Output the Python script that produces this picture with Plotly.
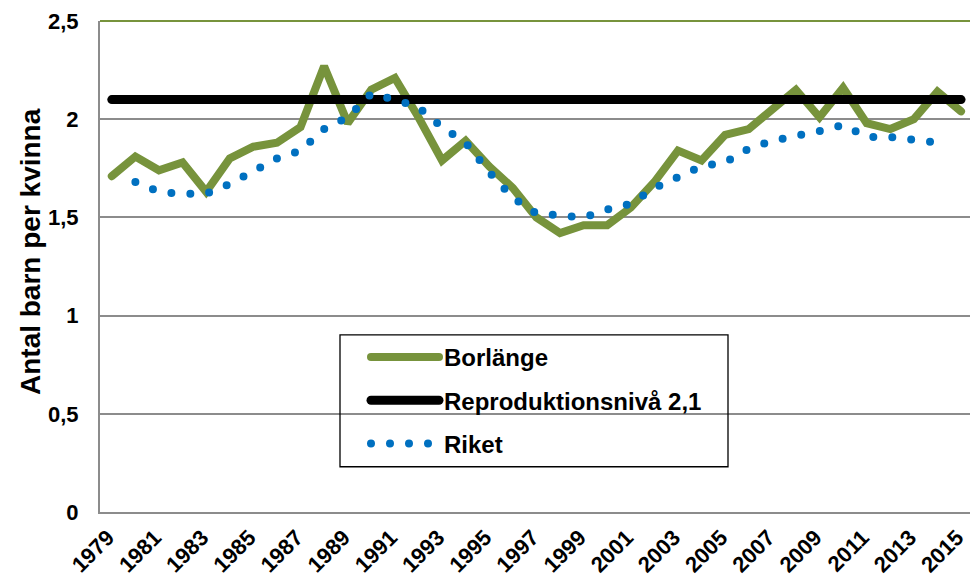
import plotly.graph_objects as go

years = list(range(1979, 2016))
borlange = [1.71, 1.81, 1.74, 1.78, 1.63, 1.80, 1.86, 1.88, 1.96, 2.27,
            1.98, 2.15, 2.21, 2.01, 1.79, 1.89, 1.76, 1.65, 1.50, 1.42,
            1.46, 1.46, 1.55, 1.68, 1.84, 1.79, 1.92, 1.95, 2.05, 2.15,
            2.01, 2.16, 1.98, 1.95, 2.00, 2.14, 2.04]
repro_years = list(range(1979, 2016))
repro = [2.1] * len(repro_years)
riket_years = list(range(1980, 2015))
riket = [1.68, 1.63, 1.62, 1.62, 1.67, 1.74, 1.80, 1.84, 1.95, 2.01,
         2.13, 2.10, 2.06, 1.96, 1.88, 1.73, 1.60, 1.52, 1.51, 1.50,
         1.54, 1.57, 1.65, 1.71, 1.76, 1.78, 1.85, 1.89, 1.91, 1.94,
         1.97, 1.91, 1.91, 1.90, 1.88]

xtick_vals = list(range(1979, 2016, 2))
xtick_text = [str(v) for v in xtick_vals]
ytick_vals = [0, 0.5, 1, 1.5, 2, 2.5]
ytick_text = ["0", "0,5", "1", "1,5", "2", "2,5"]

GREEN = "#77933C"
BLUE = "#0070C0"
GRID = "#8C8C8C"
FONT = "Liberation Sans"

fig = go.Figure()
fig.add_trace(go.Scatter(x=years, y=borlange, mode="lines", name="Borlänge",
                         legendgroup="a",
                         line=dict(color=GREEN, width=8)))
fig.add_trace(go.Scatter(x=repro_years, y=repro, mode="lines",
                         name="Reproduktionsnivå 2,1", legendgroup="b",
                         line=dict(color="black", width=9)))
fig.add_trace(go.Scatter(x=riket_years, y=riket, mode="lines", name="Riket",
                         legendgroup="c",
                         line=dict(color=BLUE, width=8, dash="0px,19px")))

fig.update_layout(
    width=970, height=577, autosize=False,
    margin=dict(l=100, r=0, t=21, b=65, autoexpand=False),
    paper_bgcolor="white", plot_bgcolor="white",
    font=dict(family=FONT, color="black", weight="bold"),
    showlegend=True,
    legend=dict(x=(366 - 100) / 870, y=(512.3 - 335) / 491.6,
                xanchor="left", yanchor="top",
                bgcolor="rgba(0,0,0,0)", borderwidth=0,
                font=dict(family=FONT, size=24, color="black", weight="bold"),
                itemwidth=68, tracegroupgap=9, traceorder="grouped"),
    xaxis=dict(range=[1978.5, 2015.38], tickmode="array",
               tickvals=xtick_vals, ticktext=xtick_text, tickangle=-45,
               tickfont=dict(family=FONT, size=22, weight="bold"),
               showgrid=False, zeroline=False, showline=True,
               linecolor=GRID, linewidth=2, ticks="", ticklabelstandoff=2,
               ticklabelshift=-4,
               ticklabeloverflow="allow", automargin=False),
    yaxis=dict(range=[0, 2.5], tickmode="array", tickvals=ytick_vals,
               ticktext=ytick_text,
               tickfont=dict(family=FONT, size=22, weight="bold"),
               showgrid=True, gridcolor=GRID, gridwidth=2, zeroline=False,
               showline=True, linecolor=GRID, linewidth=2, ticks="",
               ticklabelstandoff=15, automargin=False),
    shapes=[
        dict(type="line", xref="paper", yref="paper", x0=0, x1=1, y0=1, y1=1,
             line=dict(color=GREEN, width=2)),
        dict(type="rect", xref="paper", yref="paper",
             x0=(340 - 100) / 870, x1=(728 - 100) / 870,
             y0=(512.3 - 467) / 491.6, y1=(512.3 - 335) / 491.6,
             line=dict(color="black", width=1.3), fillcolor="rgba(0,0,0,0)"),
    ],
    annotations=[
        dict(text="Antal barn per kvinna", xref="paper", yref="paper",
             x=(30 - 100) / 870, y=(512.3 - 252) / 491.6,
             xanchor="center", yanchor="middle", textangle=-90,
             showarrow=False,
             font=dict(family=FONT, size=28, color="black", weight="bold")),
    ],
)

post = """
document.body.style.margin = '0';
document.body.style.padding = '0';
var st = document.createElement('style');
st.textContent = 'body{margin:0 !important;} .scatterlayer .js-line{stroke-linecap:round;} .legendlines path{stroke-linecap:round;}';
document.head.appendChild(st);
"""

fig.write_html("out.html", post_script=post,
               config={"displayModeBar": False})
